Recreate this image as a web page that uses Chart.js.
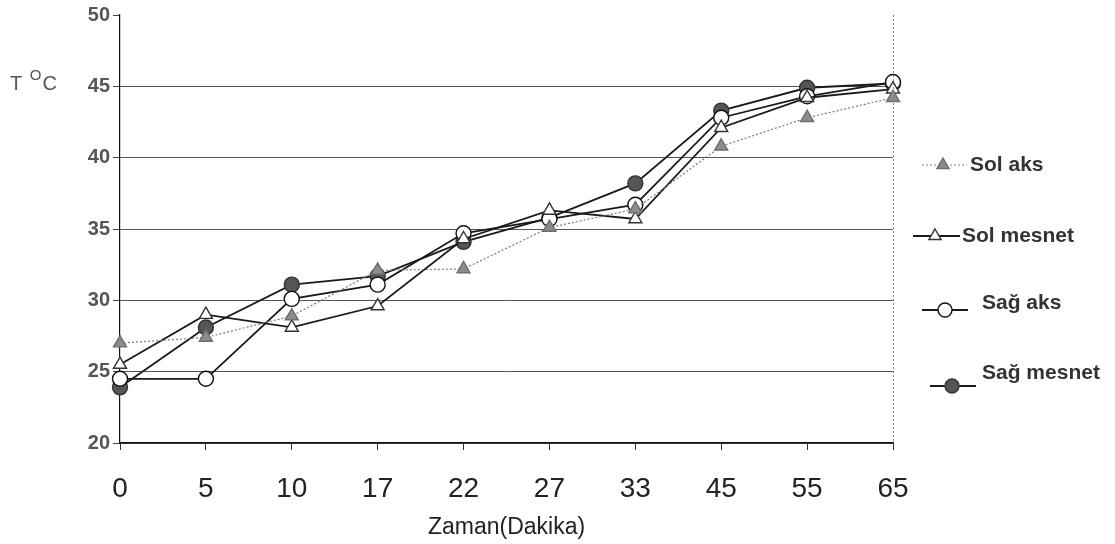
<!DOCTYPE html>
<html>
<head>
<meta charset="utf-8">
<script src="https://cdn.jsdelivr.net/npm/chart.js@4.4.0/dist/chart.umd.min.js"></script>
<style>
html,body{margin:0;padding:0;background:#fff;}
#wrap{position:relative;width:1115px;height:544px;}
</style>
</head>
<body>
<div id="wrap"><canvas id="c" width="1115" height="544"></canvas></div>
<script>
const categories = ['0','5','10','17','22','27','33','45','55','65'];
const solAks    = [27.0, 27.4, 28.9, 32.1, 32.2, 35.1, 36.4, 40.8, 42.8, 44.2];
const solMesnet = [25.5, 29.0, 28.1, 29.6, 34.3, 36.3, 35.7, 42.1, 44.2, 44.8];
const sagAks    = [24.5, 24.5, 30.1, 31.1, 34.7, 35.7, 36.7, 42.8, 44.3, 45.3];
const sagMesnet = [23.9, 28.1, 31.1, 31.7, 34.1, 35.8, 38.2, 43.3, 44.9, 45.2];
const seriesNames = ['Sol aks','Sol mesnet','Sağ aks','Sağ mesnet'];
const yTitle = ['T ', 'O', 'C'];
const xTitle = 'Zaman(Dakika)';

const styles = [
  {borderColor:'#7a7a7a', borderWidth:1.2, borderDash:[2,2], pointStyle:'triangle', pointBackgroundColor:'#8c8c8c', pointBorderColor:'#6e6e6e', pointRadius:7.5},
  {borderColor:'#1a1a1a', borderWidth:1.8, borderDash:[], pointStyle:'triangle', pointBackgroundColor:'#ffffff', pointBorderColor:'#333', pointRadius:7.5},
  {borderColor:'#1a1a1a', borderWidth:1.8, borderDash:[], pointStyle:'circle', pointBackgroundColor:'#ffffff', pointBorderColor:'#111', pointRadius:7.5},
  {borderColor:'#1a1a1a', borderWidth:1.8, borderDash:[], pointStyle:'circle', pointBackgroundColor:'#555555', pointBorderColor:'#333', pointRadius:7.5}
];
const seriesData = [solAks, solMesnet, sagAks, sagMesnet];

const datasets = seriesData.map((d,i)=>Object.assign({
  label: seriesNames[i], data: d, tension:0, fill:false,
  pointBorderWidth:1.4, pointHoverRadius:7
}, styles[i]));

const legendPos = [
  {x1:922, x2:967, mx:943, y:165, tx:970},
  {x1:913, x2:960, mx:935, y:236, tx:962},
  {x1:922, x2:968, mx:945, y:310, tx:982, ty:303},
  {x1:930, x2:976, mx:952, y:386, tx:982, ty:373}
];

const extras = {
  id:'extras',
  afterDraw(chart){
    const ctx = chart.ctx;
    const a = chart.chartArea;
    ctx.save();
    // right dotted border
    ctx.strokeStyle = '#888';
    ctx.lineWidth = 1;
    ctx.setLineDash([2,2]);
    ctx.beginPath(); ctx.moveTo(a.right+0.5, a.top); ctx.lineTo(a.right+0.5, a.bottom); ctx.stroke();
    ctx.setLineDash([]);
    // y title
    ctx.fillStyle = '#555';
    ctx.textBaseline = 'middle';
    ctx.textAlign = 'left';
    ctx.font = '20px "Liberation Sans", Arial, sans-serif';
    ctx.fillText(yTitle[0], 10, 84);
    let w = ctx.measureText(yTitle[0]).width;
    ctx.font = '15px "Liberation Sans", Arial, sans-serif';
    ctx.fillText(yTitle[1], 10 + w + 2, 76);
    const w2 = ctx.measureText(yTitle[1]).width;
    ctx.font = '20px "Liberation Sans", Arial, sans-serif';
    ctx.fillText(yTitle[2], 10 + w + 2 + w2 + 1, 84);
    // legend
    chart.data.datasets.forEach((ds,i)=>{
      const p = legendPos[i];
      ctx.strokeStyle = ds.borderColor;
      ctx.lineWidth = ds.borderWidth;
      ctx.setLineDash(ds.borderDash || []);
      ctx.beginPath(); ctx.moveTo(p.x1, p.y); ctx.lineTo(p.x2, p.y); ctx.stroke();
      ctx.setLineDash([]);
      ctx.fillStyle = ds.pointBackgroundColor;
      ctx.strokeStyle = ds.pointBorderColor;
      ctx.lineWidth = 1.4;
      Chart.helpers.drawPoint(ctx, {pointStyle: ds.pointStyle, radius: 7, rotation: 0, borderWidth: 1.4}, p.mx, p.y);
      ctx.fillStyle = '#333';
      ctx.font = 'bold 21px "Liberation Sans", Arial, sans-serif';
      ctx.textBaseline = 'middle';
      ctx.fillText(ds.label, p.tx, p.ty || p.y);
    });
    ctx.restore();
  }
};

new Chart(document.getElementById('c'), {
  type:'line',
  data:{labels:categories, datasets},
  options:{
    responsive:false,
    animation:false,
    layout:{padding:{top:14, right:222, left:0, bottom:0}},
    plugins:{legend:{display:false}, tooltip:{enabled:false}},
    scales:{
      x:{
        type:'category', offset:false,
        afterFit(s){ s.height = 101; },
        grid:{drawOnChartArea:false, drawTicks:true, tickLength:7, color:'#333'},
        border:{color:'#111', width:1.5},
        ticks:{color:'#222', padding:22, font:{family:'"Liberation Sans Narrow", "Liberation Sans", Arial, sans-serif', size:28}, maxRotation:0, autoSkip:false},
        title:{display:true, text:xTitle, color:'#222', padding:{top:0,bottom:3}, font:{family:'"Liberation Sans", Arial, sans-serif', size:23}}
      },
      y:{
        min:20, max:50,
        afterFit(s){ s.width = 120; },
        grid:{color:(c)=> c.tick && c.tick.value===50 ? 'rgba(0,0,0,0)' : '#555', tickColor:'#444', tickLength:7, lineWidth:1},
        border:{color:'#111', width:1.2},
        ticks:{stepSize:5, color:'#555', padding:3, font:{family:'"Liberation Sans", Arial, sans-serif', size:20, weight:'bold'}}
      }
    }
  },
  plugins:[extras]
});
</script>
</body>
</html>
